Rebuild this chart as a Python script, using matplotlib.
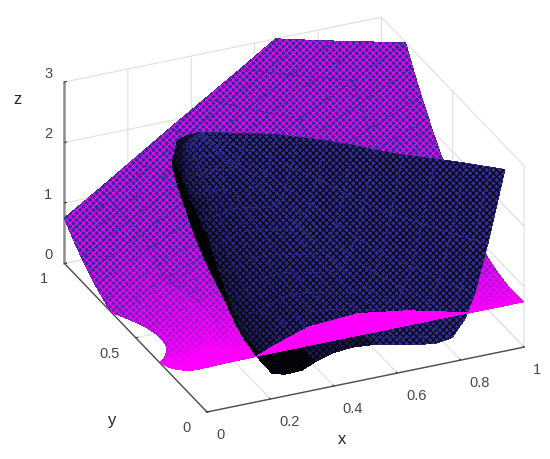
import numpy as np, matplotlib
matplotlib.use('Agg')
import matplotlib.pyplot as plt
from mpl_toolkits.mplot3d import proj3d

# ---------- values ----------
X_TICKS = [0, .2, .4, .6, .8, 1]
Y_TICKS = [0, .5, 1]
Z_TICKS = [0, 1, 2, 3]
X_LABELS = ['0', '0.2', '0.4', '0.6', '0.8', '1']
Y_LABELS = ['0', '0.5', '1']
Z_LABELS = ['0', '1', '2', '3']

# magenta sheet: one row of x / z per y
MAG_Y = [0, .04, .08, .13, .19, .25, .30, .33, .35, .38, .42, .46, .50, .54, .58, .62, .65, .67, .72, .78, .83, .88, .92, .96, 1]
MAG_X = [
 [0,.167,.333,.5,.667,.833,1],[0,.167,.333,.5,.667,.833,1],[0,.167,.333,.5,.667,.833,1],[0,.167,.333,.5,.667,.833,1],
 [0,.167,.333,.5,.667,.833,1],[0,.167,.333,.5,.667,.833,1],[0,.167,.333,.5,.667,.833,1],[0,.167,.333,.5,.667,.833,1],
 [.021,.184,.347,.510,.674,.837,1],[.043,.202,.362,.521,.681,.840,1],[.060,.216,.373,.530,.687,.843,1],
 [.066,.221,.377,.533,.689,.844,1],[.063,.220,.376,.532,.688,.844,1],[.055,.213,.370,.528,.685,.843,1],
 [.042,.202,.361,.521,.681,.840,1],[.025,.188,.350,.513,.675,.838,1],[.010,.175,.340,.505,.670,.835,1],
 [0,.167,.333,.5,.667,.833,1],[0,.167,.333,.5,.667,.833,1],[0,.167,.333,.5,.667,.833,1],[0,.167,.333,.5,.667,.833,1],
 [0,.149,.298,.448,.597,.746,.895],[0,.136,.272,.408,.543,.679,.815],[0,.123,.246,.369,.492,.616,.739],
 [0,.111,.222,.333,.444,.555,.666]]
MAG_Z = [
 [.75,.75,.75,.75,.75,.75,.75],[.62,.64,.66,.68,.70,.71,.73],[.50,.54,.58,.61,.65,.69,.73],[.37,.43,.49,.55,.62,.68,.74],
 [.23,.32,.41,.50,.60,.69,.78],[.11,.24,.36,.48,.60,.73,.85],[.04,.19,.34,.48,.63,.78,.93],[0,.16,.33,.49,.66,.82,.99],
 [0,.17,.34,.51,.69,.86,1.03],[0,.18,.37,.55,.73,.92,1.10],[0,.20,.40,.60,.80,1.00,1.20],[0,.22,.44,.66,.88,1.10,1.32],
 [0,.24,.48,.72,.96,1.21,1.45],[0,.26,.53,.79,1.06,1.32,1.59],[0,.29,.58,.87,1.16,1.45,1.74],[0,.32,.64,.95,1.27,1.59,1.91],
 [0,.34,.68,1.02,1.36,1.70,2.04],[0,.36,.71,1.07,1.42,1.78,2.14],[.07,.45,.84,1.22,1.61,2.00,2.38],[.17,.59,1.01,1.44,1.86,2.28,2.70],
 [.27,.73,1.18,1.63,2.09,2.54,2.99],[.39,.83,1.26,1.70,2.13,2.57,3],[.50,.92,1.33,1.75,2.17,2.58,3],[.62,1.02,1.41,1.81,2.21,2.60,3],
 [.75,1.12,1.50,1.88,2.25,2.62,3]]

# blue sheet: one row of x / z per y
BLUE_Y = [0, .03, .08, .14, .2, .26, .31, .37, .42, .46, .5, .525, .544, .555, .562]
BLUE_X = [
 [0,.032,.082,.120,.158,.205,.246,.300,.340,.394,.457,.530,.634,.719,.773,.814,.845,.886,.940],
 [.003,.034,.082,.119,.155,.200,.240,.292,.330,.382,.443,.513,.613,.695,.747,.787,.816,.856,.908],
 [.015,.044,.088,.122,.156,.198,.235,.283,.319,.367,.423,.488,.581,.657,.705,.742,.770,.806,.854],
 [.028,.054,.094,.125,.155,.193,.226,.270,.302,.345,.396,.455,.539,.607,.651,.684,.709,.742,.785],
 [.040,.063,.098,.125,.152,.186,.215,.254,.282,.321,.365,.417,.492,.552,.591,.620,.642,.671,.709],
 [.045,.066,.098,.122,.146,.177,.203,.237,.263,.298,.338,.385,.452,.506,.541,.567,.587,.614,.648],
 [.050,.069,.098,.120,.143,.170,.195,.226,.250,.282,.319,.362,.423,.473,.505,.529,.548,.572,.603],
 [.064,.080,.106,.125,.144,.168,.189,.216,.236,.264,.295,.332,.385,.428,.456,.476,.492,.513,.540],
 [.080,.094,.115,.131,.147,.167,.184,.207,.224,.247,.273,.304,.348,.384,.407,.424,.437,.455,.477],
 [.100,.111,.129,.142,.155,.171,.186,.204,.218,.237,.259,.285,.321,.350,.369,.383,.394,.409,.427],
 [.125,.133,.145,.154,.163,.174,.184,.197,.207,.220,.235,.253,.278,.298,.311,.321,.329,.339,.352],
 [.140,.146,.154,.161,.167,.176,.183,.192,.199,.208,.219,.232,.250,.265,.274,.281,.287,.294,.303],
 [.151,.155,.161,.166,.170,.176,.181,.188,.193,.199,.207,.216,.229,.239,.246,.251,.254,.259,.266],
 [.185,.187,.190,.193,.195,.198,.201,.204,.207,.210,.214,.219,.225,.231,.234,.237,.239,.241,.245],
 [.231]*19]
BLUE_Z = [
 [2.90,2.32,1.55,1.06,.74,.42,.36,.37,.46,.55,.58,.55,.43,.36,.40,.67,1.05,1.83,3],
 [2.90,2.34,1.58,1.11,.79,.48,.42,.43,.52,.61,.64,.61,.49,.42,.46,.73,1.10,1.86,3],
 [2.91,2.36,1.64,1.18,.88,.59,.53,.54,.62,.71,.73,.71,.59,.53,.57,.82,1.17,1.90,3],
 [2.91,2.41,1.74,1.31,1.03,.75,.70,.71,.79,.86,.89,.86,.76,.70,.73,.97,1.30,1.98,3],
 [2.92,2.46,1.84,1.45,1.19,.94,.89,.90,.97,1.04,1.06,1.04,.94,.89,.92,1.14,1.44,2.06,3],
 [2.93,2.52,1.97,1.62,1.40,1.17,1.13,1.13,1.20,1.26,1.28,1.26,1.18,1.13,1.15,1.35,1.62,2.17,3],
 [2.94,2.57,2.09,1.78,1.58,1.37,1.34,1.34,1.40,1.46,1.48,1.46,1.38,1.34,1.36,1.53,1.77,2.26,3],
 [2.95,2.65,2.26,2.01,1.85,1.68,1.65,1.66,1.70,1.75,1.77,1.75,1.69,1.65,1.67,1.81,2.01,2.40,3],
 [2.96,2.73,2.42,2.22,2.10,1.97,1.94,1.95,1.98,2.02,2.03,2.02,1.97,1.94,1.96,2.07,2.22,2.53,3],
 [2.97,2.80,2.56,2.42,2.32,2.23,2.21,2.21,2.24,2.27,2.27,2.27,2.23,2.21,2.22,2.30,2.42,2.65,3],
 [2.98,2.86,2.71,2.61,2.55,2.48,2.47,2.47,2.49,2.51,2.52,2.51,2.49,2.47,2.48,2.53,2.61,2.77,3],
 [2.99,2.92,2.83,2.77,2.73,2.69,2.68,2.69,2.70,2.71,2.71,2.71,2.69,2.68,2.69,2.72,2.77,2.86,3],
 [2.99,2.96,2.92,2.89,2.87,2.85,2.85,2.85,2.85,2.86,2.86,2.86,2.85,2.85,2.85,2.86,2.89,2.93,3],
 [3,2.98,2.97,2.96,2.95,2.94,2.94,2.94,2.94,2.94,2.95,2.94,2.94,2.94,2.94,2.95,2.96,2.97,3],
 [3]*19]

# part of the magenta sheet that lies in front of the blue one
FRONT_X = [.158, .261, .41, .562, .687, .824]
FRONT_Y0 = [.002] * 6
FRONT_Z0 = [.75] * 6
FRONT_Y1 = [.002, .103, .202, .189, .117, .003]
FRONT_Z1 = [.75, .57, .465, .56, .65, .75]

# ---------- figure ----------
plt.rcParams['font.family'] = ['Liberation Sans', 'DejaVu Sans']
plt.rcParams['font.size'] = 10.5
plt.rcParams['hatch.linewidth'] = .8
W, H = 550, 459
fig = plt.figure(figsize=(W/100, H/100), dpi=100)
ax = fig.add_axes([0.05027, -0.04819, 0.94381, 1.13093], projection='3d')
ax.set_proj_type('ortho')
ax.view_init(elev=27.5, azim=-113.9)
ax.set_box_aspect((1, 1.015, 0.59), zoom=1)
ax.computed_zorder = False
ax.set_xlim(0, 1, view_margin=0); ax.set_ylim(0, 1, view_margin=0); ax.set_zlim(0, 3, view_margin=0)
ax.apply_aspect()

def P(x, y, z):
    a, b, _ = proj3d.proj_transform(np.asarray(x, float), np.asarray(y, float), np.asarray(z, float), ax.get_proj())
    return ax.transData.transform(np.column_stack([np.ravel(a), np.ravel(b)]))

def screen_density(X, Y, Z):
    """Projected cell area per unit of x-y area: small where the fine mesh crowds together."""
    q = P(X.ravel(), Y.ravel(), Z.ravel()).reshape(X.shape + (2,))
    def quad(u, v):
        return .5*np.abs((u[1:, 1:]-u[:-1, :-1])*(v[1:, :-1]-v[:-1, 1:]) - (u[1:, :-1]-u[:-1, 1:])*(v[1:, 1:]-v[:-1, :-1]))
    return quad(q[..., 0], q[..., 1]) / np.maximum(quad(X, Y), 1e-6)

# magenta sheet
MX = np.array(MAG_X); MZ = np.array(MAG_Z); MY = np.tile(np.array(MAG_Y)[:, None], (1, MX.shape[1]))
MAG = np.array([1, 0, 1, 1.]); NAVY = np.array([.2, .17, .58, 1.])
m = np.clip((130000 - screen_density(MX, MY, MZ)) / 95000, 0, 1)[..., None]
fc = np.zeros(MX.shape + (4,)); fc[..., 3] = 1
fc[:-1, :-1] = m*MAG + (1-m)*NAVY
sm = ax.plot_surface(MX, MY, MZ, rstride=1, cstride=1, facecolors=fc, shade=False, linewidth=0, antialiased=False, hatch='xxxxx', zorder=1)
sm._hatch_color = (1, 0, 1, 1)

# blue sheet
BX = np.array(BLUE_X); BZ = np.array(BLUE_Z); BY = np.tile(np.array(BLUE_Y)[:, None], (1, BX.shape[1]))
BLUE = np.array([.2, .18, .6, 1.]); BLK = np.array([0, 0, 0, 1.])
col_dark = np.array([1, 1, .83, .57, .49, .39, .3, .19, .17, .14, .11, .09, .07, .05, .03, .02, .02, .01, 0])
row_fade = np.array([1]*9 + [.6]*6)
d = np.outer(row_fade, col_dark)
d[:2, :8] = np.maximum(d[:2, :8], .9)
d[:2, 8:11] = np.maximum(d[:2, 8:11], .5)
fb = d[..., None]*BLK + (1-d[..., None])*BLUE
sb = ax.plot_surface(BX, BY, BZ, rstride=1, cstride=1, facecolors=fb, shade=False, linewidth=0, antialiased=False, hatch='xxxxx', zorder=2)
sb._hatch_color = (0, 0, 0, 1)

# magenta sliver in front
ax.plot_surface(np.array([FRONT_X, FRONT_X]), np.array([FRONT_Y0, FRONT_Y1]), np.array([FRONT_Z0, FRONT_Z1]),
                rstride=1, cstride=1, color=(1, 0, 1, 1), shade=False, linewidth=0, antialiased=False, zorder=3)

ax.set_xticks(X_TICKS); ax.set_yticks(Y_TICKS); ax.set_zticks(Z_TICKS)
ax.set_xticklabels(['']*6); ax.set_yticklabels(['']*3); ax.set_zticklabels(['']*4)
for a in (ax.xaxis, ax.yaxis, ax.zaxis):
    a.set_pane_color((1, 1, 1, 0))
    a.pane.set_edgecolor((.87, .87, .87)); a.pane.set_linewidth(.8)
    a._axinfo['grid'].update(color=(.87, .87, .87), linewidth=.8)
    a.line.set_color((.3, .3, .3)); a.line.set_linewidth(1)
    a.set_tick_params(colors=(.25, .25, .25))
    a._axinfo['tick'].update(inward_factor=0, outward_factor=.08)
ax.zaxis.line.set_color((.55, .55, .55)); ax.zaxis.line.set_linewidth(1.8)

TC = (.28, .28, .28)
def lab(pt, dx, dy, t, ha):
    fig.text((pt[0]+dx)/W, (pt[1]-dy)/H, t, ha=ha, va='center', color=TC)
for v, t in zip(X_TICKS, X_LABELS): lab(P(v, 0, 0)[0], 9, 23, t, 'left')
for v, t in zip(Y_TICKS, Y_LABELS): lab(P(0, v, 0)[0], -16, 16, t, 'right')
for v, t in zip(Z_TICKS, Z_LABELS): lab(P(0, 1, v)[0], -12, -8, t, 'right')
for t, x, y in [('z', 17, 100), ('y', 112, 421), ('x', 342, 440)]:
    fig.text(x/W, 1-y/H, t, ha='center', va='center', color=(.15, .15, .15), fontsize=12)
fig.savefig('out.png', dpi=100)
